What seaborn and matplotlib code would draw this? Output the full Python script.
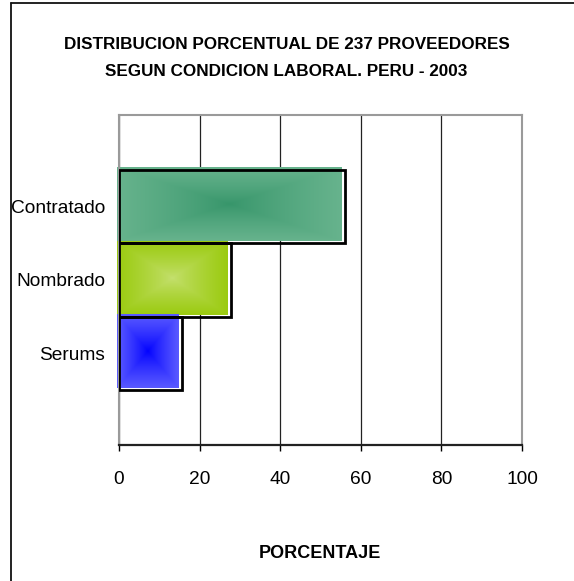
import numpy as np
import pandas as pd
import matplotlib
matplotlib.use("Agg")
import matplotlib.pyplot as plt
import matplotlib.transforms as mtransforms
from matplotlib.lines import Line2D
from matplotlib.colors import to_rgb
import seaborn as sns

# Datos
categorias = ["Contratado", "Nombrado", "Serums"]
porcentajes = [56.1, 27.8, 15.6]
color_borde = ["#67B38D", "#9BCB10", "#5A5AFF"]
color_centro = ["#36956A", "#C5E070", "#0000FF"]
ticks_x = [0, 20, 40, 60, 80, 100]

titulo = "DISTRIBUCION PORCENTUAL DE 237 PROVEEDORES\nSEGUN CONDICION LABORAL. PERU - 2003"
etiqueta_x = "PORCENTAJE"

sns.set_theme(style="white")
plt.rcParams["font.family"] = ["Liberation Sans", "DejaVu Sans"]
plt.rcParams["text.color"] = "black"
plt.rcParams["xtick.color"] = "black"
plt.rcParams["ytick.color"] = "black"

df = pd.DataFrame({"condicion": categorias, "porcentaje": porcentajes})

fig = plt.figure(figsize=(5.74, 5.81), dpi=100)
ax = fig.add_axes([0.2073, 0.2341, 0.7021, 0.568])

sns.barplot(data=df, x="porcentaje", y="condicion", orient="h", width=1,
            color="white", edgecolor="black", linewidth=2, ax=ax, zorder=3)

# relleno degradado (desde el centro) desplazado como sombra
shift = mtransforms.offset_copy(ax.transData, fig=fig, x=-2, y=2, units="dots")
n = 200
u = np.linspace(-1, 1, n)
U, V = np.meshgrid(u, u)
t = np.maximum(np.abs(U), np.abs(V)) ** 0.8
for patch, c_edge, c_mid in zip(ax.patches, color_borde, color_centro):
    patch.set_facecolor("none")
    ce = np.array(to_rgb(c_edge))
    cm = np.array(to_rgb(c_mid))
    img = cm[None, None, :] * (1 - t[..., None]) + ce[None, None, :] * t[..., None]
    x0, y0 = patch.get_x(), patch.get_y()
    w, h = patch.get_width(), patch.get_height()
    im = ax.imshow(img, extent=(x0, x0 + w - 0.3, y0 + h, y0), aspect="auto",
                   interpolation="bilinear", zorder=2, clip_on=False)
    im.set_transform(shift)

ax.set_xlim(0, 100)
ax.set_ylim(3.247, -1.242)
ax.set_xticks(ticks_x)
ax.set_xticklabels([str(v) for v in ticks_x], fontsize=13.8)
ax.tick_params(axis="x", direction="out", length=4.5, width=1, color="black",
               bottom=True, pad=14)
ax.tick_params(axis="y", length=0, pad=10, labelsize=13.8)
ax.xaxis.grid(True, color="#222222", linewidth=0.9, zorder=1)
ax.set_axisbelow(True)
ax.set_ylabel("")
ax.set_xlabel("")

for side in ["top", "left", "right"]:
    ax.spines[side].set_color("#9a9a9a")
    ax.spines[side].set_linewidth(1.5)
ax.spines["bottom"].set_color("#222222")
ax.spines["bottom"].set_linewidth(1.6)

fig.text(0.499, 0.900, titulo, ha="center", va="center", fontsize=12.3,
         fontweight="bold", linespacing=2.05)
fig.text(0.558, 0.048, etiqueta_x, ha="center", va="center", fontsize=13,
         fontweight="bold")

# marco exterior del grafico
fig.add_artist(Line2D([0.0192, 0.0192], [0.0, 0.9948], transform=fig.transFigure,
                      color="#111111", linewidth=1.3))
fig.add_artist(Line2D([0.0192, 1.0], [0.9948, 0.9948], transform=fig.transFigure,
                      color="#111111", linewidth=1.3))

fig.savefig("out.png", dpi=100, facecolor="white")
